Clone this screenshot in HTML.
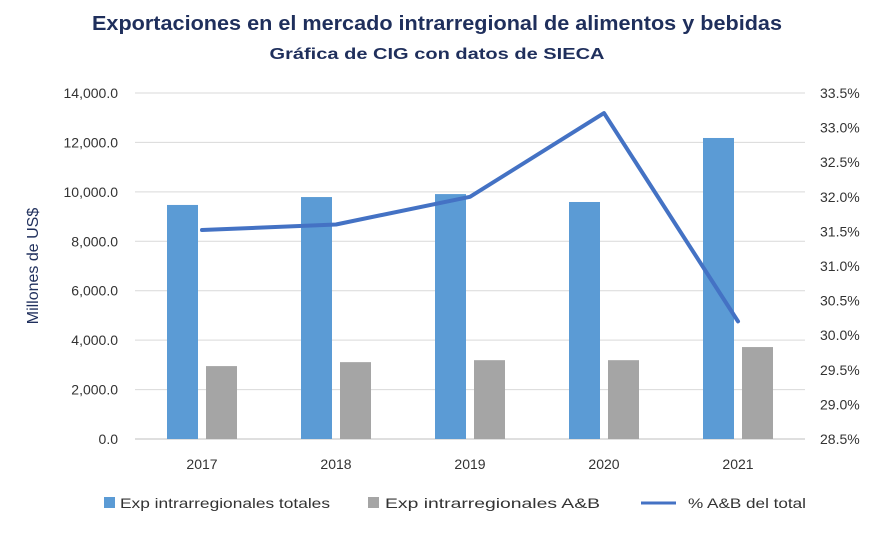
<!DOCTYPE html>
<html><head><meta charset="utf-8"><style>
body{margin:0;background:#fff;font-family:"Liberation Sans",sans-serif}
svg text{font-family:"Liberation Sans",sans-serif}
</style></head><body>
<svg id="chart" width="875" height="528" viewBox="0 0 875 528" xmlns="http://www.w3.org/2000/svg">
<text x="437" y="30" text-anchor="middle" font-size="20" font-weight="bold" fill="#1F2F5C" textLength="690" lengthAdjust="spacingAndGlyphs">Exportaciones en el mercado intrarregional de alimentos y bebidas</text>
<text x="437" y="59" text-anchor="middle" font-size="16" font-weight="bold" fill="#1F2F5C" textLength="335" lengthAdjust="spacingAndGlyphs">Gráfica de CIG con datos de SIECA</text>
<text transform="translate(38,266) rotate(-90)" text-anchor="middle" font-size="16" fill="#1F2F5C">Millones de US$</text>
<g id="grid"></g><g id="bars"></g><g id="line"></g><g id="axes"></g>
<g>
<rect x="104" y="497" width="11" height="11" fill="#5B9BD5"/>
<text x="120" y="508" font-size="14" fill="#333" textLength="210" lengthAdjust="spacingAndGlyphs">Exp intrarregionales totales</text>
<rect x="368" y="497" width="11" height="11" fill="#A5A5A5"/>
<text x="385" y="508" font-size="14" fill="#333" textLength="215" lengthAdjust="spacingAndGlyphs">Exp intrarregionales A&amp;B</text>
<line x1="641" y1="503" x2="676" y2="503" stroke="#4472C4" stroke-width="3"/>
<text x="688" y="508" font-size="14" fill="#333" textLength="118" lengthAdjust="spacingAndGlyphs">% A&amp;B del total</text>
</g>
</svg>
<script>
const categories=["2017","2018","2019","2020","2021"];
const totales=[9470,9790,9910,9590,12180];
const ab=[2950,3110,3190,3190,3720];
const pct=[31.52,31.6,32.0,33.21,30.2];
const leftTicks=[0,2000,4000,6000,8000,10000,12000,14000];
const rightTicks=[28.5,29.0,29.5,30.0,30.5,31.0,31.5,32.0,32.5,33.0,33.5];
const NS="http://www.w3.org/2000/svg";
const x0=135,x1=805,yB=439,yT=93;
const yL=v=>yB-(v/14000)*(yB-yT);
const yR=v=>yB-((v-28.5)/5)*(yB-yT);
const band=(x1-x0)/categories.length;
const xc=i=>x0+band*(i+0.5);
function mk(t,a,p){const e=document.createElementNS(NS,t);for(const k in a)e.setAttribute(k,a[k]);document.getElementById(p).appendChild(e);return e;}
leftTicks.forEach(v=>{
 const g=mk("line",{x1:x0,x2:x1,y1:yL(v),y2:yL(v),stroke:v===0?"#BFBFBF":"#D9D9D9","stroke-width":1},"grid");
 
 
 const t=mk("text",{x:118,y:yL(v)+5,"text-anchor":"end","font-size":"14",fill:"#333"},"axes");
 t.textContent=v.toLocaleString("en-US",{minimumFractionDigits:1});
 
 
});
rightTicks.forEach(v=>{
 const t=mk("text",{x:820,y:yR(v)+5,"font-size":"14",fill:"#333"},"axes");
 t.textContent=v.toFixed(1)+"%";
 
 
});
const bw=31,gap=8;
categories.forEach((c,i)=>{
 const cx=xc(i);
 const b1=mk("rect",{x:cx-gap/2-bw,y:yL(totales[i]),width:bw,height:yB-yL(totales[i]),fill:"#5B9BD5"},"bars");
 
 
 const b2=mk("rect",{x:cx+gap/2,y:yL(ab[i]),width:bw,height:yB-yL(ab[i]),fill:"#A5A5A5"},"bars");
 
 
 const t=mk("text",{x:cx,y:469,"text-anchor":"middle","font-size":"14",fill:"#333"},"axes");
 t.textContent=c;
 
 
});
const pl=mk("polyline",{points:pct.map((v,i)=>xc(i)+","+yR(v)).join(" "),fill:"none",stroke:"#4472C4","stroke-width":4,"stroke-linejoin":"round","stroke-linecap":"round"},"line");


</script>
</body></html>
